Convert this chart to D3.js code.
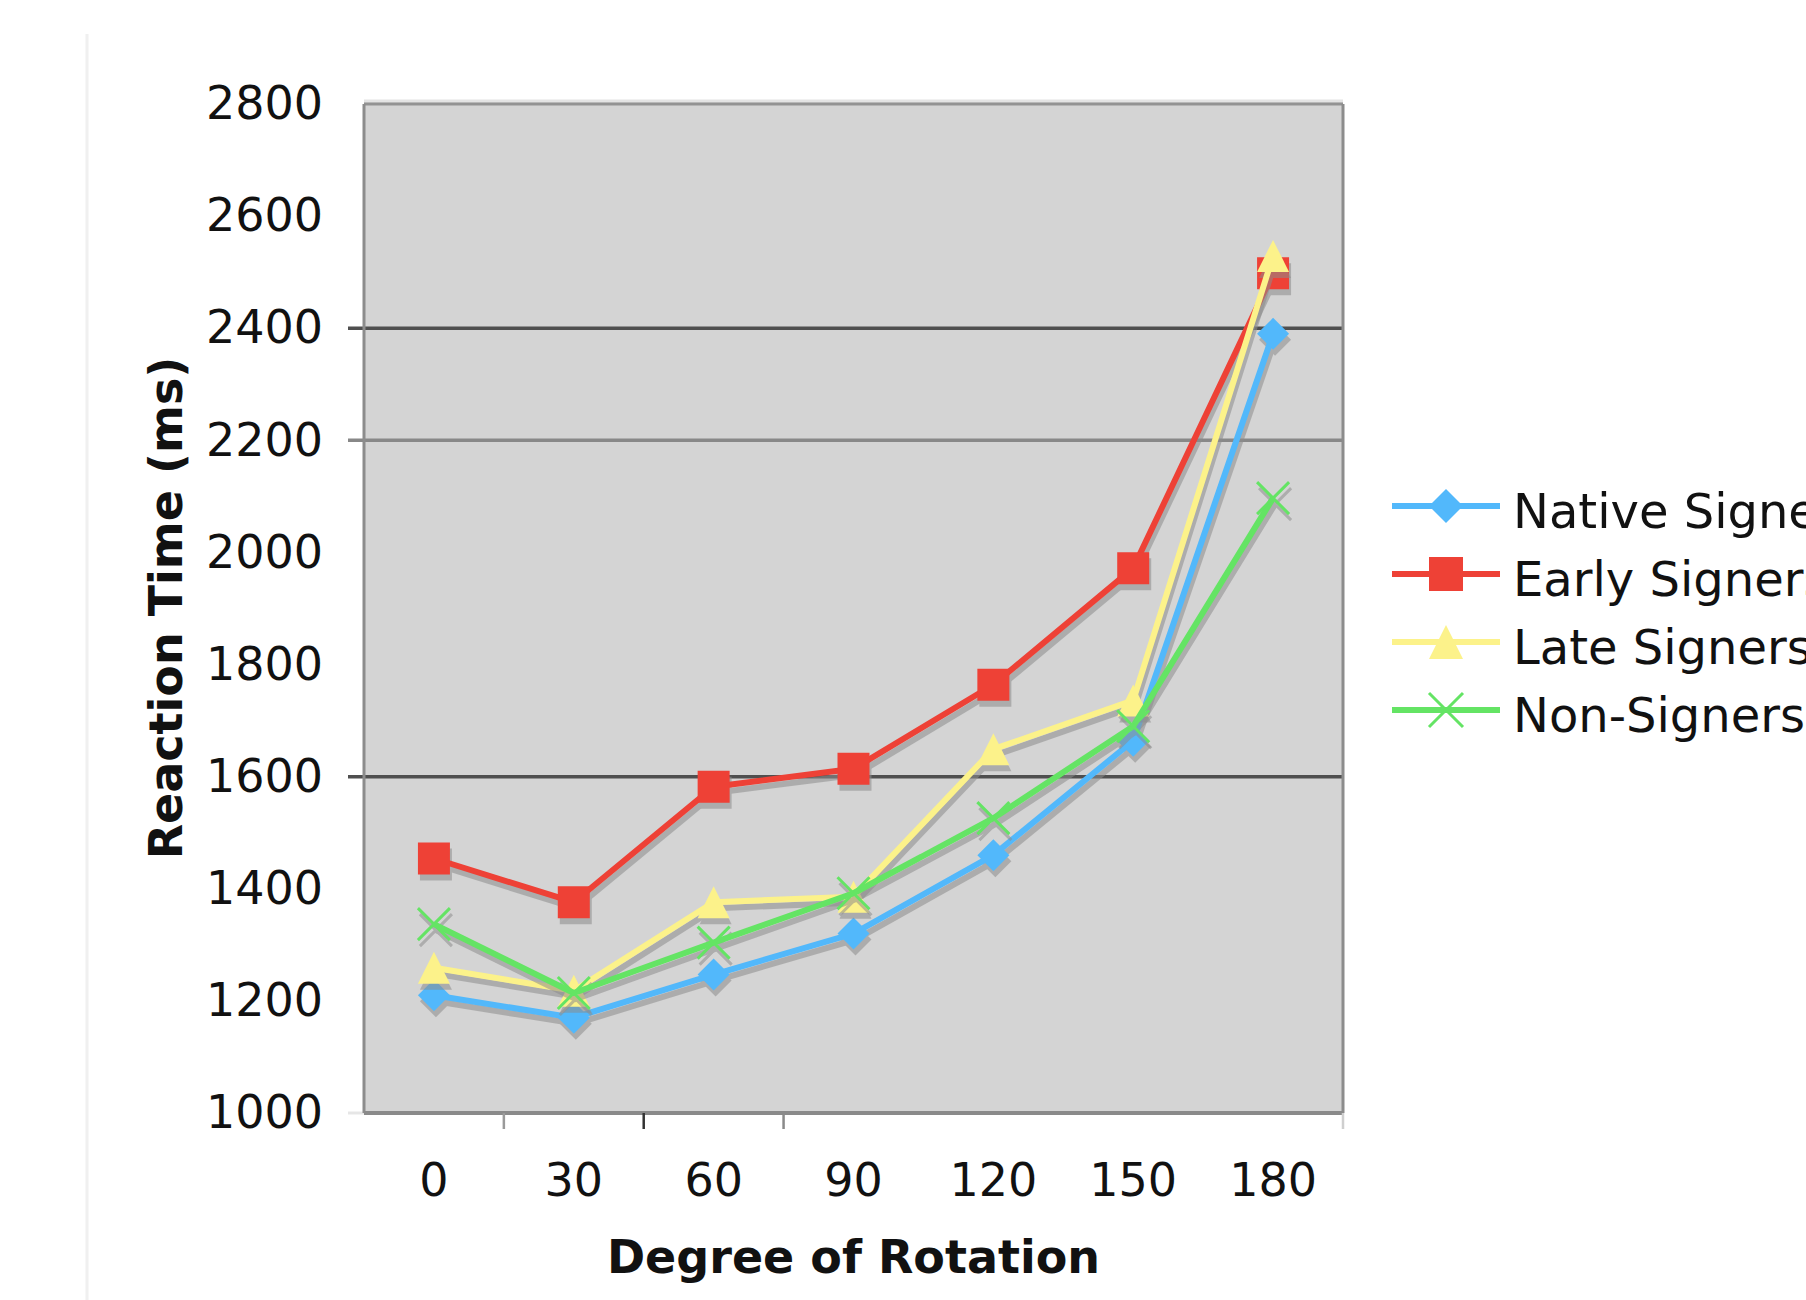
<!DOCTYPE html>
<html>
<head>
<meta charset="utf-8">
<script src="https://cdn.jsdelivr.net/npm/d3@7"></script>
<style>
  body { margin: 0; background: #fff; }
  text { font-family: "DejaVu Sans", Verdana, sans-serif; fill: #111; }
</style>
</head>
<body>
<script>
// data
var degrees = ["0", "30", "60", "90", "120", "150", "180"]
var nativeSigners = [1210, 1170, 1247, 1320, 1460, 1664, 2390]
var earlySigners = [1454, 1376, 1582, 1614, 1764, 1972, 2498]
var lateSigners = [1259, 1218, 1376, 1386, 1649, 1736, 2529]
var nonSigners = [1337, 1214, 1304, 1392, 1526, 1690, 2097]
var seriesNames = ["Native Signers", "Early Signers", "Late Signers", "Non-Signers"]
var yTicks = [1000, 1200, 1400, 1600, 1800, 2000, 2200, 2400, 2600, 2800]
var gridValues = [2400, 2200, 1600]

var width = 1806
var height = 1300

// plot box
var margin = { top: 104, right: 463, bottom: 187, left: 364 }
var innerW = width - margin.left - margin.right
var innerH = height - margin.top - margin.bottom

var colors = ["#52b8fb", "#ee4136", "#fcf28a", "#64e464"]
var shapes = ["diamond", "square", "triangle", "cross"]

const svg = d3.select("body").append("svg")
    .attr("width", width)
    .attr("height", height)

svg.append("rect").attr("width", width).attr("height", height).attr("fill", "#fff")

// faint frame line at the left of the picture
svg.append("line")
    .attr("x1", 87).attr("x2", 87).attr("y1", 34).attr("y2", height)
    .attr("stroke", "#f0f0f0").attr("stroke-width", 3)

const xScale = d3.scaleBand().domain(degrees).range([0, innerW])
const xEdge = d3.scaleLinear().domain([0, degrees.length]).range([0, innerW])
const yScale = d3.scaleLinear().domain([1000, 2800]).range([innerH, 0])

const g = svg.append("g")
    .attr("transform", "translate(" + margin.left + "," + margin.top + ")")

// plot area
g.append("rect")
    .attr("x", 0).attr("y", -2)
    .attr("width", innerW).attr("height", innerH + 2)
    .attr("fill", "#d4d4d4")
g.append("line").attr("x1", 0).attr("x2", innerW).attr("y1", -3).attr("y2", -3)
    .attr("stroke", "#e4e4e4").attr("stroke-width", 3)

// gridlines (only the ones visible in the picture)
var gridColor = d => d == 2200 ? "#888" : "#4f4f4f"
g.selectAll(".grid").data(gridValues).enter().append("line")
    .attr("class", "grid")
    .attr("x1", -16).attr("x2", innerW)
    .attr("y1", d => yScale(d)).attr("y2", d => yScale(d))
    .attr("stroke", gridColor).attr("stroke-width", 3.5)
g.append("line").attr("x1", -16).attr("x2", 0)
    .attr("y1", yScale(1000)).attr("y2", yScale(1000))
    .attr("stroke", "#e6e6e6").attr("stroke-width", 3)

// border
g.append("line").attr("x1", 0).attr("x2", innerW).attr("y1", 0).attr("y2", 0)
    .attr("stroke", "#939393").attr("stroke-width", 3)
g.append("line").attr("x1", 0).attr("x2", 0).attr("y1", 0).attr("y2", innerH)
    .attr("stroke", "#8c8c8c").attr("stroke-width", 3)
g.append("line").attr("x1", innerW).attr("x2", innerW).attr("y1", 0).attr("y2", innerH)
    .attr("stroke", "#8c8c8c").attr("stroke-width", 3)
g.append("line").attr("x1", 0).attr("x2", innerW).attr("y1", innerH).attr("y2", innerH)
    .attr("stroke", "#8a8a8a").attr("stroke-width", 4)

// y axis labels
const yAxis = g.append("g")
    .call(d3.axisLeft(yScale).tickValues(yTicks).tickSize(0).tickPadding(41).tickFormat(d3.format("d")))
yAxis.select(".domain").remove()
yAxis.selectAll("text")
    .attr("font-size", 46).attr("fill", "#111")
    .attr("font-family", "DejaVu Sans, Verdana, sans-serif")

// x axis labels
const xAxis = g.append("g")
    .attr("transform", "translate(0," + innerH + ")")
    .call(d3.axisBottom(xScale).tickSize(0).tickPadding(50))
xAxis.select(".domain").remove()
xAxis.selectAll("text")
    .attr("font-size", 46).attr("fill", "#111")
    .attr("font-family", "DejaVu Sans, Verdana, sans-serif")

// small ticks between categories (the ones that show)
var tickCol = ["#9a9a9a", "#333", "#8a8a8a", "#cfcfcf"]
g.selectAll(".xtick").data([1, 2, 3, 7]).enter().append("line")
    .attr("class", "xtick")
    .attr("x1", d => xEdge(d)).attr("x2", d => xEdge(d))
    .attr("y1", innerH).attr("y2", innerH + 16)
    .attr("stroke", (d, i) => tickCol[i]).attr("stroke-width", 2.5)

// axis titles
svg.append("text")
    .attr("x", margin.left + innerW / 2).attr("y", 1273)
    .attr("text-anchor", "middle")
    .attr("font-size", 46).attr("font-weight", "bold")
    .text("Degree of Rotation")
svg.append("text")
    .attr("transform", "translate(182,608) rotate(-90)")
    .attr("text-anchor", "middle")
    .attr("font-size", 46).attr("font-weight", "bold")
    .text("Reaction Time (ms)")

// marker drawing
var markerPath = function (shape, s) {
    var h = s / 2
    if (shape == "diamond") return "M0," + (-h) + "L" + h + ",0L0," + h + "L" + (-h) + ",0Z"
    if (shape == "square") return "M" + (-h) + "," + (-h) + "h" + s + "v" + s + "h" + (-s) + "Z"
    if (shape == "triangle") return "M0," + (-h) + "L" + h + "," + h + "L" + (-h) + "," + h + "Z"
    return "M" + (-h) + "," + (-h) + "L" + h + "," + h + "M" + h + "," + (-h) + "L" + (-h) + "," + h
}
var drawMarker = function (sel, shape, color, s) {
    sel.append("path")
        .attr("d", markerPath(shape, s))
        .attr("fill", shape == "cross" ? "none" : color)
        .attr("stroke", shape == "cross" ? color : "none")
        .attr("stroke-width", shape == "cross" ? 3 : 0)
}

var allSeries = [nativeSigners, earlySigners, lateSigners, nonSigners]
var line = d3.line()
    .x((d, i) => xScale(degrees[i]) + xScale.bandwidth() / 2)
    .y(d => yScale(d))

allSeries.forEach((values, k) => {
    const sg = g.append("g")
    // drop shadow
    const sh = sg.append("g").attr("transform", "translate(2,6)").attr("opacity", 0.55)
    sh.append("path").attr("d", line(values))
        .attr("fill", "none").attr("stroke", "#8d8d8d").attr("stroke-width", 6)
    values.forEach((v, i) => {
        const m = sh.append("g")
            .attr("transform", "translate(" + (xScale(degrees[i]) + xScale.bandwidth() / 2) + "," + yScale(v) + ")")
        drawMarker(m, shapes[k], "#8d8d8d", 32)
    })
    // series
    sg.append("path").attr("d", line(values))
        .attr("fill", "none").attr("stroke", colors[k]).attr("stroke-width", 6)
        .attr("stroke-linejoin", "round")
    values.forEach((v, i) => {
        const m = sg.append("g")
            .attr("transform", "translate(" + (xScale(degrees[i]) + xScale.bandwidth() / 2) + "," + yScale(v) + ")")
        drawMarker(m, shapes[k], colors[k], 32)
    })
})

// legend
const legend = svg.append("g").attr("transform", "translate(1392,506)")
seriesNames.forEach((name, k) => {
    const row = legend.append("g").attr("transform", "translate(0," + k * 68 + ")")
    row.append("line").attr("x1", 0).attr("x2", 108).attr("y1", 0).attr("y2", 0)
        .attr("stroke", colors[k]).attr("stroke-width", 6)
    const m = row.append("g").attr("transform", "translate(54,0)")
    drawMarker(m, shapes[k], colors[k], 34)
    row.append("text").attr("x", 121).attr("y", 22)
        .attr("font-size", 48)
        .text(name)
})
</script>
</body>
</html>
